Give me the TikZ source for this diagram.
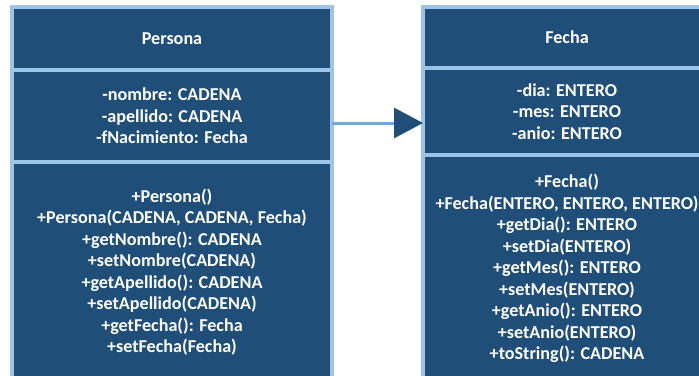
\documentclass[tikz,border=0pt]{standalone}
\usepackage{fontspec}
\setmainfont{Carlito}
\usetikzlibrary{positioning,arrows.meta}
\definecolor{boxBlue}{HTML}{1F4E79}
\definecolor{edgeBlue}{HTML}{9DC3E6}
\definecolor{linkBlue}{HTML}{6FA8DC}

\tikzset{
  part/.style={draw=edgeBlue, line width=3.2bp, fill=boxBlue, text=white,
    inner sep=0pt, outer sep=0pt, align=center,
    font=\fontsize{18.2}{21.6}\selectfont\bfseries},
}

\begin{document}
\begin{tikzpicture}[x=1bp, y=-1bp]
\useasboundingbox (0,0) rectangle (699,375);
\clip (0,0) rectangle (699,375);

% class Persona
\node[part, anchor=north west, minimum width=320bp, minimum height=63bp] (phead) at (12,7) {Persona};
\node[part, below=0pt of phead, minimum width=320bp, minimum height=92bp] (pattr)
  {-nombre: CADENA\\-apellido: CADENA\\-fNacimiento: Fecha};
\node[part, below=0pt of pattr, minimum width=320bp, minimum height=220bp] (pmeth)
  {+Persona()\\+Persona(CADENA, CADENA, Fecha)\\+getNombre(): CADENA\\+setNombre(CADENA)\\
   +getApellido(): CADENA\\+setApellido(CADENA)\\+getFecha(): Fecha\\+setFecha(Fecha)};

% class Fecha
\node[part, anchor=north west, minimum width=288bp, minimum height=61bp] (fhead) at (423,7) {Fecha};
\node[part, below=0pt of fhead, minimum width=288bp, minimum height=87bp] (fattr)
  {-dia: ENTERO\\-mes: ENTERO\\-anio: ENTERO};
\node[part, below=0pt of fattr, minimum width=288bp, minimum height=227bp] (fmeth)
  {+Fecha()\\+Fecha(ENTERO, ENTERO, ENTERO)\\+getDia(): ENTERO\\+setDia(ENTERO)\\
   +getMes(): ENTERO\\+setMes(ENTERO)\\+getAnio(): ENTERO\\+setAnio(ENTERO)\\+toString(): CADENA};

% association
\draw[linkBlue, line width=3bp, -{Triangle[length=29bp, width=30bp, color=boxBlue]}]
  (pattr.east |- 0,123) -- (fattr.west |- 0,123);
\end{tikzpicture}
\end{document}
